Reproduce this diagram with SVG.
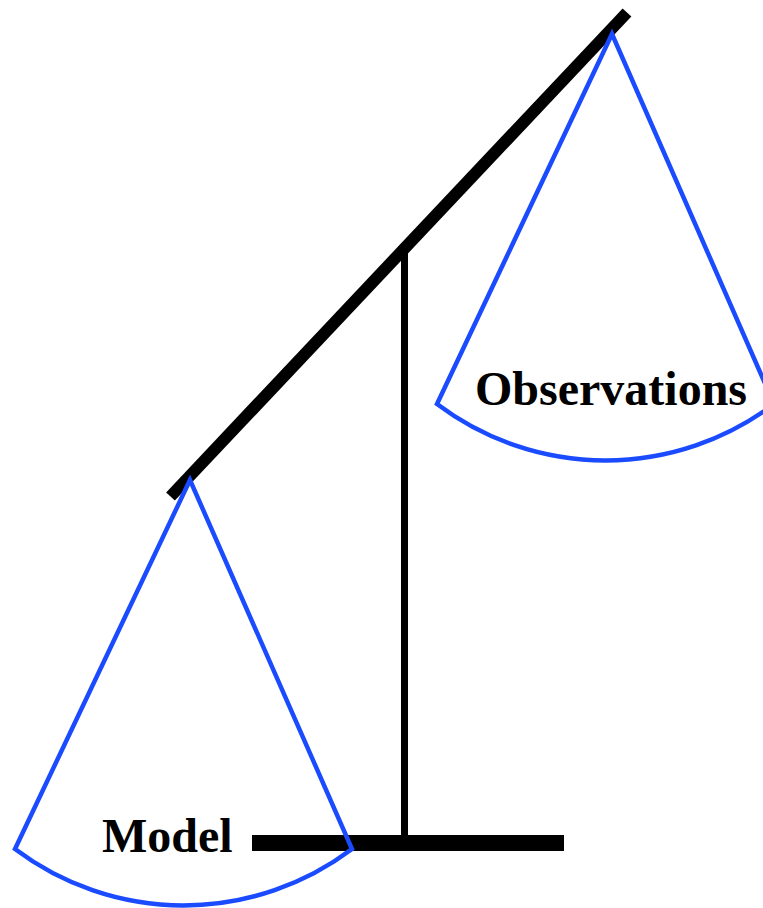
<svg xmlns="http://www.w3.org/2000/svg" width="763" height="908" viewBox="0 0 763 908">
  <style>
    .bar { stroke: #000; fill: none; stroke-linecap: butt; }
    .pan { stroke: #1a4bff; stroke-width: 4.5; fill: none; stroke-linejoin: miter; }
    .label { font-family: "Liberation Serif", "Times New Roman", serif; font-weight: bold; font-size: 48px; fill: #000; }
  </style>
  <rect width="763" height="908" fill="#fff"/>
  <g id="scale-stand">
    <line class="bar" x1="404.5" y1="249" x2="404.5" y2="840" stroke-width="7"/>
    <rect x="252" y="835" width="312" height="16" fill="#000"/>
  </g>
  <g id="beam">
    <line class="bar" x1="170.5" y1="496.5" x2="627" y2="12.5" stroke-width="12"/>
  </g>
  <g id="pan-model">
    <path class="pan" d="M15,849 L190,480 L352,849 A280,280 0 0 1 15,849 Z"/>
    <text class="label" x="102" y="852">Model</text>
  </g>
  <g id="pan-observations">
    <path class="pan" d="M437,404 L612,34 L774,404 A280,280 0 0 1 437,404 Z"/>
    <text class="label" x="475" y="405">Observations</text>
  </g>
</svg>
